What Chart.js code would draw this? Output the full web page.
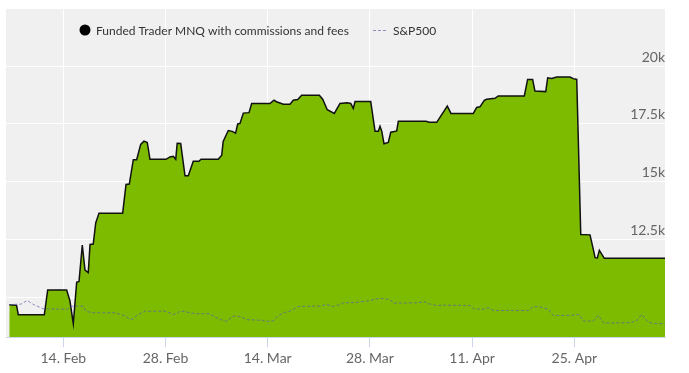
<!DOCTYPE html>
<html>
<head>
<meta charset="utf-8">
<script src="https://cdn.jsdelivr.net/npm/chart.js@4"></script>
<style>
  html, body { margin: 0; padding: 0; background: #fff; }
  #wrap { width: 689px; height: 373px; }
</style>
</head>
<body>
<div id="wrap"><canvas id="chart"></canvas></div>
<script>
// days are day-of-year (45 = 14 Feb)
const fundedDays = [37.6, 38.6, 38.83, 42.4, 42.86, 45.46, 45.9, 46.37, 46.83, 47.15, 47.6, 47.97, 48.42, 48.66, 49.1, 49.44, 49.89,
  53.13, 53.59, 54.04, 54.59, 55.05, 55.6, 56.05, 56.5, 56.87, 59.06, 59.61, 60.07, 60.4, 60.6, 61.08, 61.67, 62.12, 62.8, 63.59, 63.86,
  66.23, 66.7, 66.9, 67.6, 68.15, 68.6, 68.89, 69.2, 69.66, 70.44, 70.8, 73.3, 73.86, 74.2, 75.14, 76.05, 76.5, 77.1, 77.65,
  80.07, 80.53, 81.16, 82.12, 82.9, 83.86, 84.37, 84.72, 84.96, 87.11, 87.7, 88.15, 88.38, 88.62, 88.93, 89.52, 89.85, 90.34, 90.67, 90.89,
  94.68, 95.14, 96.15, 97.6, 98.1, 101.16, 101.62, 102.07, 102.67, 102.99, 104.13, 104.58, 108.15, 108.6, 109.29, 109.6, 111.08, 111.35,
  111.9, 112.58, 114.4, 114.86, 115.33, 115.88, 117.15, 117.6, 117.84, 118.15, 118.43, 119.11, 127.42];
const fundedValues = [9673, 9650, 9245, 9245, 10316, 10316, 9857, 8860, 10643, 10680, 12257, 11173, 11070, 12287, 12300, 13213, 13641,
  13641, 14884, 14900, 15955, 15955, 16615, 16756, 16700, 15970, 15970, 16071, 16100, 15970, 16658, 16650, 15257, 15257, 15886, 15886, 15970,
  15970, 16143, 16743, 17214, 17180, 17099, 17498, 17520, 17969, 17990, 18385, 18385, 18526, 18460, 18355, 18355, 18526, 18556, 18740,
  18740, 18569, 18115, 17956, 18385, 18420, 18385, 18170, 18470, 18470, 17185, 17185, 17399, 17185, 16640, 16700, 17142, 17170, 17200, 17613,
  17613, 17570, 17570, 18273, 17956, 17956, 18213, 18240, 18526, 18570, 18612, 18714, 18714, 19428, 19428, 18928, 18900, 19499,
  19470, 19528, 19528, 19460, 19428, 12715, 12700, 12073, 11713, 11700, 12030, 11687, 11687];

const spDays = [37.6, 38.6, 39.16, 40.07, 40.89, 42.26, 42.94, 45.46, 46.15, 47.74, 48.11, 48.89, 52.08, 53.31, 54.14, 54.59, 55.05,
  56.19, 58.93, 60.07, 60.53, 60.99, 61.67, 62.36, 63.27, 65.1, 65.78, 67.15, 67.6, 68.06, 68.75, 69.66, 70.12, 72.4, 72.86, 73.77,
  74.23, 75.14, 76.05, 77.19, 80.16, 81.08, 81.99, 82.9, 83.36, 84.96, 87.0, 88.38, 89.75, 90.2, 93.4, 94.54, 95.0, 96.15, 97.05,
  100.7, 101.16, 102.53, 103.21, 103.9, 108.7, 109.38, 110.3, 111.44, 112.12, 114.4, 115.68, 116.23, 117.6, 118.28, 119.06,
  122.62, 123.54, 124.22, 125.13, 126.05, 127.42];
const spValues = [9673, 9700, 9700, 9857, 9690, 9501, 9501, 9480, 9614, 9614, 9398, 9330, 9330, 9215, 9043, 9070, 9215,
  9398, 9398, 9258, 9290, 9398, 9380, 9330, 9287, 9287, 9144, 8958, 8990, 9172, 9190, 9110, 9030, 9000, 8958, 8980,
  9150, 9330, 9400, 9600, 9620, 9686, 9600, 9686, 9760, 9770, 9857, 9957, 9900, 9743, 9760, 9800, 9720, 9643, 9660,
  9643, 9501, 9480, 9543, 9429, 9429, 9600, 9580, 9480, 9215, 9215, 9250, 8971, 8971, 9215, 8885,
  8900, 8980, 9258, 8920, 8860, 8860];

const tickDays = [45, 59, 73, 87, 101, 115];
const valueTicks = [10000, 12500, 15000, 17500, 20000, 22500];
const monthNames = ['Jan', 'Feb', 'Mar', 'Apr', 'May', 'Jun'];
const monthStarts = [0, 31, 59, 90, 120, 151];

const fundedLabel = 'Funded Trader MNQ with commissions and fees';
const spLabel = 'S&P500';

const spColor = 'rgba(95, 95, 170, 0.7)';

function dayLabel(d) {
    let m = 0;
    while (m + 1 < monthStarts.length && d > monthStarts[m + 1]) m++;
    return (d - monthStarts[m]) + '. ' + monthNames[m];
}

// grey plot background
const plotBg = {
    id: 'plotBg',
    beforeDraw(chart) {
        const {ctx, chartArea: a} = chart;
        ctx.save();
        ctx.fillStyle = '#f0f0f0';
        ctx.fillRect(a.left, a.top, a.right - a.left, a.bottom - a.top);
        ctx.restore();
    }
};

// legend drawn inside the plot, like the original
const topLegend = {
    id: 'topLegend',
    afterDraw(chart) {
        const ctx = chart.ctx;
        ctx.save();
        ctx.font = '12px Lato';
        ctx.textBaseline = 'middle';
        ctx.fillStyle = '#000';
        ctx.beginPath();
        ctx.arc(85, 30, 5.5, 0, Math.PI * 2);
        ctx.fill();
        ctx.fillStyle = '#333';
        ctx.fillText(fundedLabel, 96, 31);

        ctx.strokeStyle = spColor;
        ctx.lineWidth = 1;
        ctx.setLineDash([3, 2]);
        ctx.beginPath();
        ctx.moveTo(373, 30.5);
        ctx.lineTo(388, 30.5);
        ctx.stroke();
        ctx.setLineDash([]);
        ctx.fillText(spLabel, 393, 31);
        ctx.restore();
    }
};

new Chart(document.getElementById('chart'), {
    type: 'line',
    data: {
        datasets: [{
            label: spLabel,
            data: spDays.map((d, i) => ({x: d, y: spValues[i]})),
            borderColor: spColor,
            borderWidth: 1,
            borderDash: [3, 2],
            pointRadius: 0,
            fill: false,
            tension: 0,
            order: 0
        }, {
            label: fundedLabel,
            data: fundedDays.map((d, i) => ({x: d, y: fundedValues[i]})),
            borderColor: '#111',
            backgroundColor: '#7cbb00',
            borderWidth: 1.5,
            pointRadius: 0,
            fill: 'start',
            tension: 0,
            order: 1
        }]
    },
    options: {
        responsive: true,
        maintainAspectRatio: false,
        animation: false,
        layout: { padding: { left: 6, top: 5, right: 24, bottom: 3 } },
        plugins: {
            legend: { display: false },
            tooltip: { enabled: false }
        },
        scales: {
            x: {
                type: 'linear',
                min: 37.15,
                max: 127.42,
                afterBuildTicks: scale => { scale.ticks = tickDays.map(v => ({value: v})); },
                grid: { color: '#ffffff', lineWidth: 1, tickColor: '#ccd6eb', tickLength: 10 },
                border: { color: '#ccd6eb', width: 1 },
                ticks: {
                    font: { family: 'Lato', size: 14 },
                    color: '#666',
                    padding: 3,
                    maxRotation: 0,
                    callback: v => dayLabel(v)
                }
            },
            y: {
                position: 'right',
                min: 8272,
                max: 22500,
                afterBuildTicks: scale => { scale.ticks = valueTicks.map(v => ({value: v})); },
                grid: { color: '#ffffff', lineWidth: 1, drawTicks: false },
                border: { display: false },
                ticks: {
                    mirror: true,
                    labelOffset: -9,
                    padding: 0,
                    font: { family: 'Lato', size: 14 },
                    color: '#666',
                    callback: v => v >= 22500 ? '' : (v / 1000) + 'k'
                }
            }
        }
    },
    plugins: [plotBg, topLegend]
});
</script>
</body>
</html>
